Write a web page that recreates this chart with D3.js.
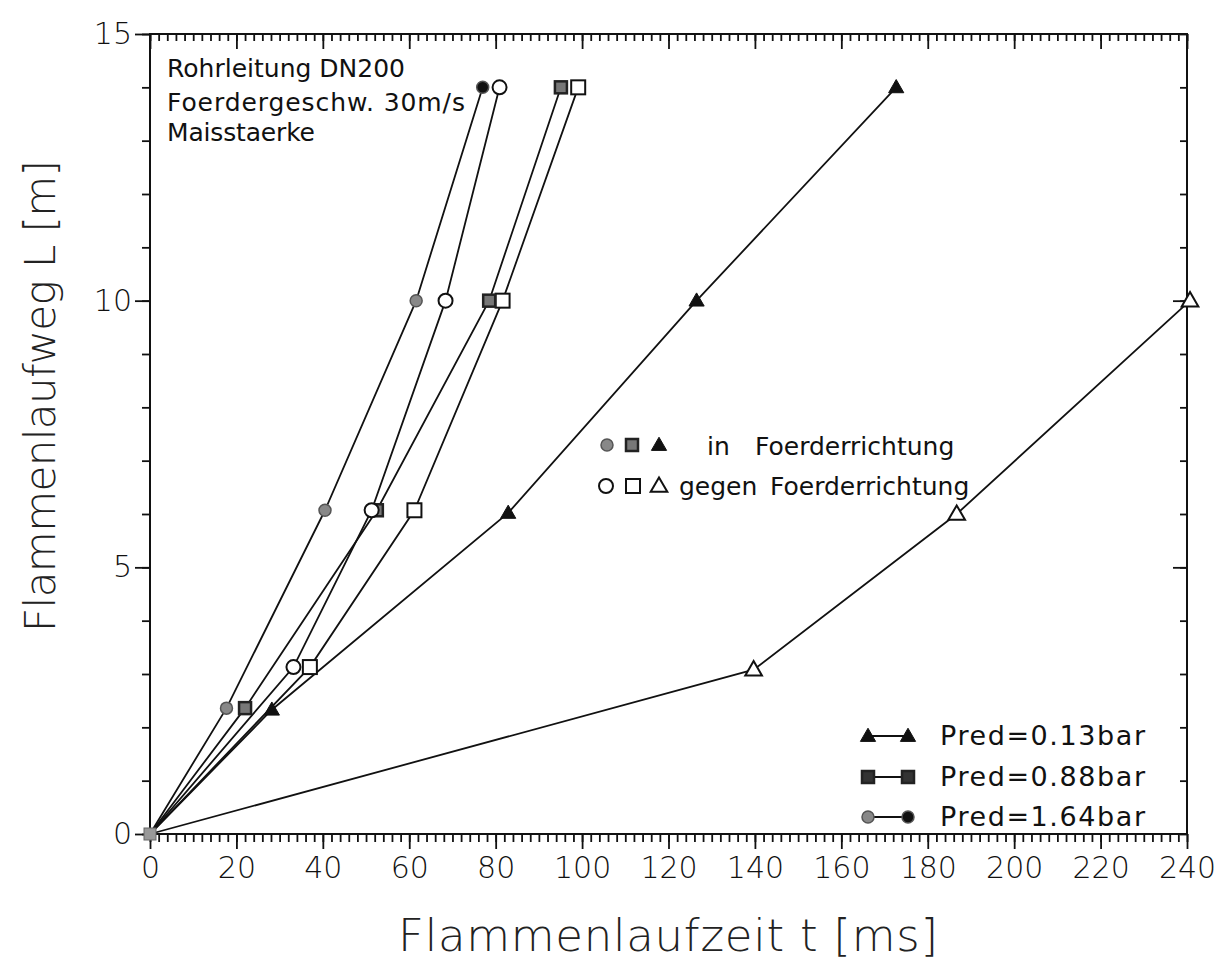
<!DOCTYPE html>
<html lang="de">
<head>
<meta charset="UTF-8">
<title>Flammenlaufweg</title>
<script src="https://d3js.org/d3.v7.min.js"></script>
<style>
    body { margin: 0; background: #fff; }
    svg { display: block; font-family: "DejaVu Sans", sans-serif; }
    .axis path { display: none; }
    .axis line { stroke: #111; stroke-width: 1.8; }
    .axis text { font-size: 30px; fill: #111; font-family: "DejaVu Sans", sans-serif; font-weight: 300; }
</style>
</head>
<body>
<svg id="chart" width="1216" height="962"></svg>
<script>
// data: time [ms] and flame path [m]
const t164In = [0, 17.7, 40.5, 61.6, 77.0];
const L164In = [0, 2.36, 6.07, 10, 14];
const t164Ag = [0, 33.2, 51.3, 68.4, 80.9];
const L164Ag = [0, 3.13, 6.07, 10, 14];
const t088In = [0, 22.0, 52.5, 78.5, 95.1];
const L088In = [0, 2.36, 6.07, 10, 14];
const t088Ag = [0, 37.0, 61.2, 81.6, 99.1];
const L088Ag = [0, 3.13, 6.07, 10, 14];
const t013In = [0, 28.2, 82.9, 126.5, 172.7];
const L013In = [0, 2.33, 6.02, 10, 14];
const t013Ag = [0, 139.7, 186.7, 240.7];
const L013Ag = [0, 3.08, 6.0, 10];

const xTickLabels = [0, 20, 40, 60, 80, 100, 120, 140, 160, 180, 200, 220, 240];
const yTickLabels = [0, 5, 10, 15];
const infoLines = ["Rohrleitung DN200", "Foerdergeschw. 30m/s", "Maisstaerke"];
const legendPred = ["Pred=0.13bar", "Pred=0.88bar", "Pred=1.64bar"];

const svg = d3.select("#chart");
const x = d3.scaleLinear().domain([0, 240]).range([150, 1187]);
const y = d3.scaleLinear().domain([0, 15]).range([834, 34]);

// axes
const minorX = d3.range(0, 241, 2);
const minorY = d3.range(0, 16, 1);

svg.append("g").attr("class", "axis").attr("transform", `translate(0,${y(0)})`)
    .call(d3.axisBottom(x).tickValues(minorX).tickSize(8).tickFormat(""));
svg.append("g").attr("class", "axis").attr("transform", `translate(0,${y(0)})`)
    .call(d3.axisBottom(x).tickValues(xTickLabels).tickSize(15).tickPadding(8).tickFormat(d3.format("d")));

svg.append("g").attr("class", "axis").attr("transform", `translate(0,${y(15)})`)
    .call(d3.axisBottom(x).tickValues(minorX).tickSize(7).tickFormat(""));
svg.append("g").attr("class", "axis").attr("transform", `translate(0,${y(15)})`)
    .call(d3.axisBottom(x).tickValues(xTickLabels).tickSize(15).tickFormat(""));

svg.append("g").attr("class", "axis").attr("transform", `translate(${x(0)},0)`)
    .call(d3.axisLeft(y).tickValues(minorY).tickSize(8).tickFormat(""));
svg.append("g").attr("class", "axis").attr("transform", `translate(${x(0)},0)`)
    .call(d3.axisLeft(y).tickValues(yTickLabels).tickSize(15).tickPadding(3).tickFormat(d3.format("d")));

svg.append("g").attr("class", "axis").attr("transform", `translate(${x(240)},0)`)
    .call(d3.axisLeft(y).tickValues(minorY).tickSize(7).tickFormat(""));
svg.append("g").attr("class", "axis").attr("transform", `translate(${x(240)},0)`)
    .call(d3.axisLeft(y).tickValues([5, 10]).tickSize(14).tickFormat(""));

svg.append("rect")
    .attr("x", x(0)).attr("y", y(15))
    .attr("width", x(240) - x(0)).attr("height", y(0) - y(15))
    .attr("fill", "none").attr("stroke", "#111").attr("stroke-width", 2);

// axis titles
svg.append("text")
    .attr("x", 398).attr("y", 951)
    .attr("textLength", 540).attr("lengthAdjust", "spacing")
    .attr("font-size", 45).attr("font-weight", 300).attr("fill", "#222")
    .text("Flammenlaufzeit t [ms]");

svg.append("text")
    .attr("transform", "translate(55,632) rotate(-90)")
    .attr("textLength", 472).attr("lengthAdjust", "spacing")
    .attr("font-size", 42).attr("font-weight", 300).attr("fill", "#222")
    .text("Flammenlaufweg L [m]");

// series lines
const series = [
    { t: t013Ag, L: L013Ag, marker: "triangle", open: true },
    { t: t013In, L: L013In, marker: "triangle", open: false },
    { t: t088Ag, L: L088Ag, marker: "square", open: true },
    { t: t088In, L: L088In, marker: "square", open: false },
    { t: t164Ag, L: L164Ag, marker: "circle", open: true },
    { t: t164In, L: L164In, marker: "circle", open: false }
];

const line = d3.line().x(d => x(d[0])).y(d => y(d[1]));

series.forEach(s => {
    const pts = s.t.map((v, i) => [v, s.L[i]]);
    svg.append("path")
        .attr("d", line(pts))
        .attr("fill", "none")
        .attr("stroke", "#111")
        .attr("stroke-width", 1.8);
});

function drawMarker(g, type, open, cx, cy, fill) {
    if (type === "circle") {
        g.append("circle").attr("cx", cx).attr("cy", cy)
            .attr("r", open ? 7 : 6)
            .attr("fill", open ? "#fff" : fill)
            .attr("stroke", open ? "#111" : "#555")
            .attr("stroke-width", open ? 2 : 1.5);
    } else if (type === "square") {
        const s = open ? 14 : 12;
        g.append("rect").attr("x", cx - s / 2).attr("y", cy - s / 2)
            .attr("width", s).attr("height", s)
            .attr("fill", open ? "#fff" : fill)
            .attr("stroke", open ? "#111" : "#222")
            .attr("stroke-width", open ? 2 : 2.5);
    } else {
        g.append("path")
            .attr("transform", `translate(${cx},${cy + 1})`)
            .attr("d", d3.symbol().type(d3.symbolTriangle).size(open ? 120 : 100)())
            .attr("fill", open ? "#fff" : "#111")
            .attr("stroke", "#111")
            .attr("stroke-width", open ? 2 : 1);
    }
}

// markers, skipping origin
const markers = svg.append("g");
series.forEach(s => {
    s.t.forEach((v, i) => {
        if (i === 0) return;
        let fill = "#888";
        if (s.marker === "circle" && i === s.t.length - 1) fill = "#111";
        if (s.marker === "square") fill = "#777";
        drawMarker(markers, s.marker, s.open, x(v), y(s.L[i]), fill);
    });
});
// origin point
markers.append("rect")
    .attr("x", x(0) - 6).attr("y", y(0) - 6).attr("width", 12).attr("height", 12)
    .attr("fill", "#999").attr("stroke", "#666").attr("stroke-width", 1);

// info text top left
const infoLen = [238, 298, 148];
svg.append("g").selectAll("text")
    .data(infoLines)
    .enter().append("text")
    .attr("x", 167)
    .attr("y", (d, i) => [77, 111, 141][i])
    .attr("textLength", (d, i) => infoLen[i]).attr("lengthAdjust", "spacing")
    .attr("font-size", 25)
    .attr("fill", "#111")
    .text(d => d);

// direction legend in the middle
const dirLeg = svg.append("g");
drawMarker(dirLeg, "circle", false, 607, 445, "#888");
drawMarker(dirLeg, "square", false, 632, 445, "#777");
drawMarker(dirLeg, "triangle", false, 659, 445, "#111");
drawMarker(dirLeg, "circle", true, 606, 486, "#fff");
drawMarker(dirLeg, "square", true, 633, 486, "#fff");
drawMarker(dirLeg, "triangle", true, 659, 486, "#fff");
function legText(xx, yy, s) {
    dirLeg.append("text").attr("x", xx).attr("y", yy)
        .attr("font-size", 25).attr("fill", "#111").text(s);
}
legText(707, 455, "in");
legText(755, 455, "Foerderrichtung");
legText(679, 495, "gegen");
legText(770, 495, "Foerderrichtung");

// pressure legend bottom right
const predLeg = svg.append("g");
const predMarkers = ["triangle", "square", "circle"];
const predRows = [736, 777, 817];
predMarkers.forEach((m, i) => {
    const yy = predRows[i];
    predLeg.append("line").attr("x1", 868).attr("x2", 908).attr("y1", yy).attr("y2", yy)
        .attr("stroke", "#111").attr("stroke-width", 1.8);
    drawMarker(predLeg, m, false, 868, yy, m === "circle" ? "#888" : "#333");
    drawMarker(predLeg, m, false, 908, yy, m === "circle" ? "#111" : "#333");
    predLeg.append("text").attr("x", 940).attr("y", yy + 9)
        .attr("textLength", 205).attr("lengthAdjust", "spacing")
        .attr("font-size", 27).attr("fill", "#111")
        .text(legendPred[i]);
});
</script>
</body>
</html>
